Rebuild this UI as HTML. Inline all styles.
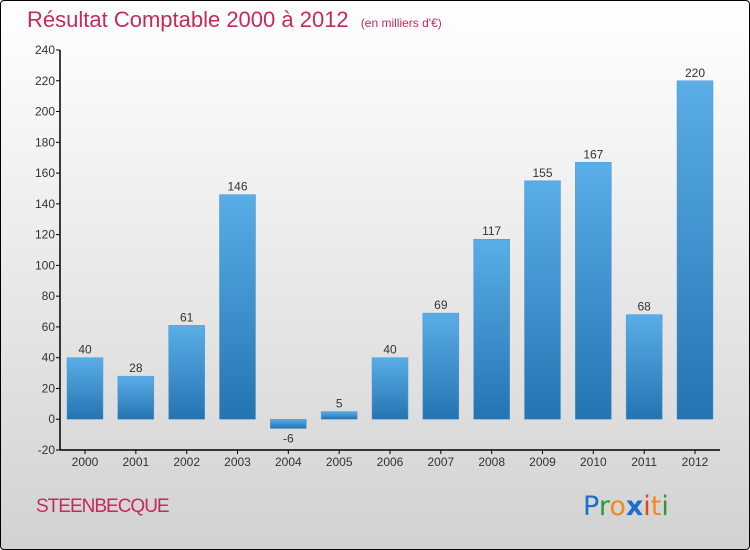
<!DOCTYPE html>
<html><head><meta charset="utf-8"><style>
html,body{margin:0;padding:0}
body{width:750px;height:550px;overflow:hidden;font-family:"Liberation Sans",sans-serif}
#frame{position:absolute;left:0;top:0;width:748px;height:548px;border:1px solid #000;border-radius:4px;background:linear-gradient(#ffffff 0%,#f2f2f2 30%,#d2d2d2 100%)}
</style></head><body>
<div id="frame">
<svg id="chart" width="750" height="550" style="position:absolute;left:-1px;top:-1px">
<defs><linearGradient id="bg" x1="0" y1="0" x2="0" y2="1"><stop offset="0" stop-color="#5aade6"/><stop offset="1" stop-color="#2574b2"/></linearGradient></defs>
<text x="27" y="27" font-size="22" fill="#c8285a">Résultat Comptable 2000 à 2012 <tspan font-size="12" dx="6">(en milliers d'€)</tspan></text>
<text x="36" y="512" font-size="19" fill="#c8285a" letter-spacing="-1">STEENBECQUE</text>
<g font-size="27" font-family="'DejaVu Sans',sans-serif">
<text x="583" y="515"><tspan fill="#1b6fc9">P</tspan><tspan fill="#2e9a3a">r</tspan><tspan fill="#f28a1b">o</tspan><tspan fill="#1b6fc9" font-weight="bold">x</tspan><tspan fill="#e3421b">i</tspan><tspan fill="#f28a1b">t</tspan><tspan fill="#2e9a3a">i</tspan></text>
</g>
<g id="axes"></g><g id="bars"></g>
</svg></div>
<script>
const categories=["2000","2001","2002","2003","2004","2005","2006","2007","2008","2009","2010","2011","2012"];
const values=[40,28,61,146,-6,5,40,69,117,155,167,68,220];
const yTicks=[-20,0,20,40,60,80,100,120,140,160,180,200,220,240];
const NS="http://www.w3.org/2000/svg";
const yMin=-20,yMax=240,plotTop=50,plotBot=450,plotLeft=60,plotRight=720;
const y=v=>plotBot-(v-yMin)/(yMax-yMin)*(plotBot-plotTop);
const step=(695-85)/(categories.length-1);
const x=i=>85+i*step;
const bw=36;
function mk(t,a,p){const e=document.createElementNS(NS,t);for(const k in a)e.setAttribute(k,a[k]);p.appendChild(e);return e;}
const ax=document.getElementById('axes'),bg=document.getElementById('bars');
const yl=mk('line',{x1:plotLeft,y1:plotTop,x2:plotLeft,y2:plotBot,stroke:'#000','stroke-width':1.5},ax);


const xl=mk('line',{x1:plotLeft,y1:plotBot,x2:plotRight,y2:plotBot,stroke:'#000','stroke-width':1.5},ax);


yTicks.forEach(v=>{
 mk('line',{x1:plotLeft-4,y1:y(v),x2:plotLeft,y2:y(v),stroke:'#000'},ax);
 const t=mk('text',{x:plotLeft-5,y:y(v)+4,'text-anchor':'end','font-size':12,fill:'#333'},ax);
 
 
 t.textContent=v;
});
categories.forEach((c,i)=>{
 mk('line',{x1:x(i),y1:plotBot,x2:x(i),y2:plotBot+4,stroke:'#000'},ax);
 const t=mk('text',{x:x(i),y:plotBot+16,'text-anchor':'middle','font-size':12,fill:'#333'},ax);
 
 
 t.textContent=c;
 const v=values[i];
 const y0=y(0),y1=y(v);
 const r=mk('rect',{x:x(i)-bw/2,y:Math.min(y0,y1),width:bw,height:Math.max(1,Math.abs(y1-y0)),fill:'url(#bg)',stroke:'#4a9ad6','stroke-width':0.5},bg);
 
 
 const l=mk('text',{x:x(i),y:v>=0?y1-4:y1+14,'text-anchor':'middle','font-size':12,fill:'#333'},bg);
 
 
 l.textContent=v;
});
</script>
</body></html>
